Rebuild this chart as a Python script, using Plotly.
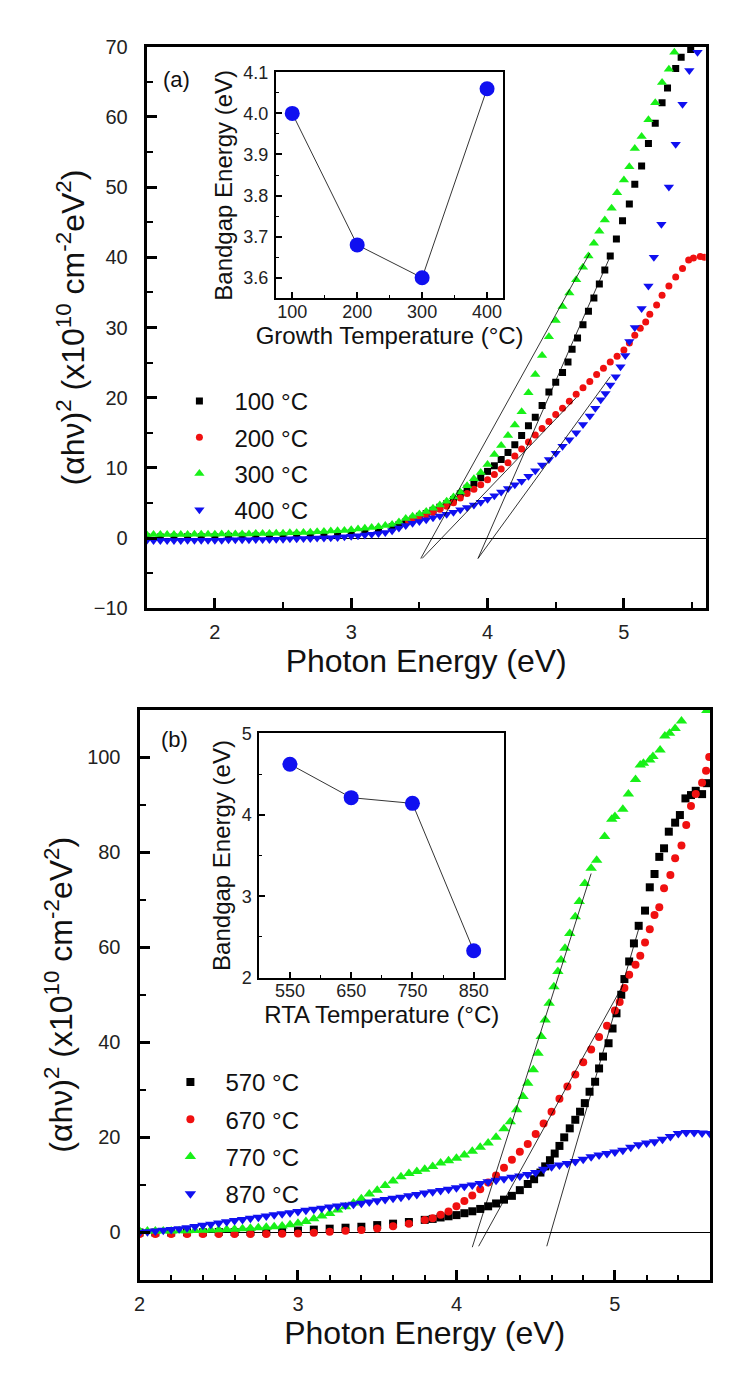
import plotly.graph_objects as go

FONT = "Liberation Sans, Arial, sans-serif"

# ---------- panel (a): films grown at different temperatures ----------
a_x_100 = [1.50, 1.60, 1.70, 1.80, 1.90, 2.00, 2.10, 2.20, 2.30, 2.40, 2.50, 2.60, 2.70, 2.80, 2.90,
           3.00, 3.10, 3.20, 3.30, 3.35, 3.40, 3.45, 3.50, 3.55, 3.60, 3.65, 3.70, 3.75, 3.80, 3.85,
           3.90, 3.95, 4.00, 4.05, 4.10, 4.15, 4.20, 4.25, 4.30, 4.35, 4.40, 4.45, 4.50, 4.55, 4.59,
           4.62, 4.66, 4.70, 4.74, 4.78, 4.82, 4.86, 4.90, 4.945, 4.99, 5.04, 5.08, 5.13, 5.18, 5.23,
           5.28, 5.32, 5.38, 5.42, 5.49, 5.55]
a_y_100 = [0.15, 0.15, 0.15, 0.2, 0.2, 0.2, 0.25, 0.25, 0.3, 0.3, 0.35, 0.4, 0.45, 0.5, 0.6,
           0.75, 0.95, 1.2, 1.6, 1.9, 2.3, 2.7, 3.1, 3.5, 3.95, 4.4, 4.9, 5.5, 6.3, 7.1,
           7.8, 8.6, 9.5, 10.3, 11.2, 12.2, 13.3, 14.6, 16.0, 17.2, 18.9, 20.8, 22.2, 23.6, 25.1,
           26.9, 28.5, 30.4, 32.3, 34.2, 36.2, 38.2, 40.2, 42.6, 45.2, 47.6, 50.4, 53.0, 56.2, 59.1,
           62.0, 64.1, 66.9, 68.5, 69.6, 70.5]

a_x_200 = [3.42, 3.45, 3.50, 3.55, 3.60, 3.65, 3.70, 3.75, 3.80, 3.85, 3.90, 3.95, 4.00, 4.05, 4.10,
           4.15, 4.20, 4.25, 4.30, 4.35, 4.40, 4.45, 4.50, 4.55, 4.60, 4.65, 4.70, 4.75, 4.80, 4.85,
           4.90, 4.95, 5.00, 5.04, 5.08, 5.12, 5.16, 5.19, 5.24, 5.28, 5.33, 5.38, 5.43, 5.475, 5.51,
           5.56, 5.59]
a_y_200 = [2.45, 2.7, 3.0, 3.3, 3.65, 4.1, 4.55, 5.05, 5.7, 6.35, 6.95, 7.6, 8.3, 9.05, 9.85,
           10.75, 11.7, 12.7, 13.7, 14.7, 15.6, 16.6, 17.6, 18.5, 19.5, 20.5, 21.4, 22.3, 23.3, 24.2,
           25.1, 25.9, 26.8, 27.8, 28.9, 29.9, 30.8, 31.9, 33.2, 34.6, 35.9, 37.2, 38.4, 39.6, 39.9,
           40.1, 40.0]

a_x_300 = [1.50, 1.55, 1.60, 1.65, 1.70, 1.75, 1.80, 1.85, 1.90, 1.95, 2.00, 2.05, 2.10, 2.15, 2.20,
           2.25, 2.30, 2.35, 2.40, 2.45, 2.50, 2.55, 2.60, 2.65, 2.70, 2.75, 2.80, 2.85, 2.90, 2.95,
           3.00, 3.05, 3.10, 3.15, 3.20, 3.25, 3.30, 3.35, 3.40, 3.45, 3.50, 3.55, 3.60, 3.65, 3.70,
           3.75, 3.80, 3.85, 3.90, 3.95, 4.00, 4.05, 4.10, 4.15, 4.20, 4.25, 4.30, 4.35, 4.40, 4.45,
           4.50, 4.55, 4.60, 4.65, 4.70, 4.74, 4.78, 4.82, 4.86, 4.91, 4.95, 5.00, 5.04, 5.08, 5.13,
           5.18, 5.23, 5.28, 5.33, 5.37, 5.42]
a_y_300 = [0.5, 0.5, 0.5, 0.5, 0.5, 0.5, 0.5, 0.55, 0.55, 0.55, 0.55, 0.6, 0.6, 0.6, 0.6,
           0.6, 0.65, 0.65, 0.65, 0.7, 0.7, 0.75, 0.75, 0.8, 0.85, 0.9, 0.95, 1.0, 1.05, 1.1,
           1.2, 1.3, 1.4, 1.5, 1.6, 1.8, 1.95, 2.3, 2.8, 3.1, 3.45, 3.8, 4.25, 4.7, 5.25,
           5.85, 6.55, 7.45, 8.45, 9.35, 10.5, 11.9, 13.2, 14.6, 16.1, 18.0, 20.7, 23.3, 26.0, 28.7,
           31.0, 33.0, 34.9, 36.8, 38.6, 40.2, 42.0, 43.7, 45.3, 47.0, 49.2, 51.0, 52.9, 55.5, 57.2,
           59.6, 62.0, 64.9, 66.8, 69.2, 71.0]

a_x_400 = [1.50, 1.55, 1.60, 1.65, 1.70, 1.75, 1.80, 1.85, 1.90, 1.95, 2.00, 2.05, 2.10, 2.15, 2.20,
           2.25, 2.30, 2.35, 2.40, 2.45, 2.50, 2.55, 2.60, 2.65, 2.70, 2.75, 2.80, 2.85, 2.90, 2.95,
           3.00, 3.05, 3.10, 3.15, 3.20, 3.25, 3.30, 3.35, 3.40, 3.45, 3.50, 3.55, 3.60, 3.65, 3.70,
           3.75, 3.80, 3.85, 3.90, 3.95, 4.00, 4.05, 4.10, 4.15, 4.20, 4.25, 4.30, 4.35, 4.40, 4.45,
           4.50, 4.55, 4.60, 4.65, 4.70, 4.75, 4.79, 4.83, 4.865, 4.90, 4.94, 4.975, 5.01, 5.04, 5.08,
           5.13, 5.18, 5.22, 5.275, 5.33, 5.38, 5.43, 5.48, 5.54]
a_y_400 = [-0.35, -0.35, -0.35, -0.35, -0.35, -0.35, -0.3, -0.3, -0.3, -0.3, -0.3, -0.3, -0.25, -0.25, -0.25,
           -0.25, -0.2, -0.2, -0.2, -0.15, -0.15, -0.1, -0.1, -0.05, -0.05, 0.0, 0.0, 0.05, 0.1, 0.2,
           0.25, 0.35, 0.45, 0.55, 0.65, 0.8, 1.05, 1.45, 1.8, 2.1, 2.35, 2.6, 2.9, 3.15, 3.4,
           3.7, 4.05, 4.35, 4.7, 5.1, 5.55, 6.05, 6.55, 7.05, 7.6, 8.1, 8.8, 9.6, 10.4, 11.2,
           12.1, 13.1, 14.0, 15.0, 16.2, 17.4, 18.5, 19.7, 20.6, 21.8, 23.0, 24.4, 26.0, 28.0, 30.0,
           32.7, 35.9, 40.0, 44.7, 50.0, 56.1, 61.8, 66.6, 69.2]

# linear extrapolation lines (x pairs, y pairs)
a_fit_x = [[3.93, 4.91], [3.52, 4.65], [3.51, 4.75], [3.93, 4.90]]
a_fit_y = [[-2.9, 40.6], [-2.9, 20.0], [-2.9, 40.6], [-2.9, 23.0]]

growth_temp = [100, 200, 300, 400]
growth_gap = [4.00, 3.68, 3.60, 4.06]

# ---------- panel (b): films after RTA ----------
b_x_570 = [2.00, 2.10, 2.20, 2.30, 2.40, 2.50, 2.60, 2.70, 2.80, 2.90, 3.00, 3.10, 3.20, 3.30, 3.40,
           3.50, 3.60, 3.70, 3.80, 3.85, 3.90, 3.95, 4.00, 4.05, 4.10, 4.15, 4.20, 4.25, 4.30, 4.35,
           4.40, 4.45, 4.49, 4.53, 4.56, 4.59, 4.62, 4.65, 4.68, 4.715, 4.75, 4.78, 4.81, 4.84, 4.875,
           4.90, 4.925, 4.96, 4.985, 5.01, 5.04, 5.06, 5.09, 5.12, 5.15, 5.19, 5.22, 5.25, 5.28, 5.31,
           5.34, 5.38, 5.41, 5.445, 5.48, 5.51, 5.55, 5.58]
b_y_570 = [0.0, 0.0, 0.0, 0.05, 0.05, 0.1, 0.1, 0.15, 0.15, 0.25, 0.4, 0.6, 0.8, 1.0, 1.2,
           1.55, 1.85, 2.2, 2.65, 2.85, 3.15, 3.4, 3.65, 4.05, 4.45, 4.95, 5.5, 6.1, 6.9, 7.7,
           8.9, 10.2, 11.2, 12.6, 13.9, 15.2, 16.6, 18.2, 20.0, 21.9, 23.7, 25.4, 27.2, 29.6, 31.7,
           34.5, 37.0, 39.8, 42.9, 46.1, 50.0, 53.3, 57.0, 60.8, 64.5, 67.7, 72.6, 75.4, 79.0, 80.8,
           84.3, 86.2, 87.8, 91.3, 92.0, 92.9, 92.2, 94.5]

b_x_670 = [2.00, 2.10, 2.20, 2.30, 2.40, 2.50, 2.60, 2.70, 2.80, 2.90, 3.00, 3.10, 3.20, 3.30, 3.40,
           3.50, 3.60, 3.70, 3.80, 3.85, 3.90, 3.95, 4.00, 4.05, 4.10, 4.15, 4.20, 4.25, 4.30, 4.35,
           4.40, 4.45, 4.50, 4.55, 4.60, 4.65, 4.70, 4.75, 4.80, 4.85, 4.90, 4.95, 5.00, 5.03, 5.06,
           5.09, 5.13, 5.16, 5.19, 5.22, 5.25, 5.28, 5.31, 5.35, 5.38, 5.42, 5.45, 5.48, 5.51, 5.55,
           5.575, 5.595]
b_y_670 = [-0.3, -0.3, -0.3, -0.3, -0.3, -0.3, -0.3, -0.3, -0.3, -0.25, -0.2, -0.05, 0.15, 0.35, 0.5,
           0.85, 1.3, 1.85, 2.6, 3.0, 3.75, 4.4, 5.5, 6.6, 7.75, 9.1, 10.5, 12.0, 13.6, 15.3,
           17.0, 18.6, 20.7, 22.9, 25.4, 28.1, 30.7, 33.2, 35.8, 38.5, 41.1, 43.5, 46.7, 48.5, 51.4,
           54.2, 56.3, 58.2, 61.0, 63.8, 66.8, 68.4, 72.4, 75.2, 78.7, 81.4, 85.7, 89.7, 92.2, 94.6,
           97.1, 100.0]

b_x_770 = [2.00, 2.05, 2.10, 2.15, 2.20, 2.25, 2.30, 2.35, 2.40, 2.45, 2.50, 2.55, 2.60, 2.65, 2.70,
           2.75, 2.80, 2.85, 2.90, 2.95, 3.00, 3.05, 3.10, 3.15, 3.20, 3.25, 3.30, 3.35, 3.40, 3.45,
           3.50, 3.55, 3.60, 3.65, 3.70, 3.75, 3.80, 3.85, 3.90, 3.95, 4.00, 4.05, 4.10, 4.15, 4.20,
           4.25, 4.30, 4.34, 4.38, 4.42, 4.45, 4.485, 4.515, 4.535, 4.56, 4.585, 4.615, 4.64, 4.66, 4.685,
           4.715, 4.75, 4.775, 4.81, 4.85, 4.885, 4.935, 4.98, 5.00, 5.05, 5.085, 5.13, 5.16, 5.18, 5.22,
           5.24, 5.285, 5.315, 5.345, 5.38, 5.42, 5.58]
b_y_770 = [0.3, 0.3, 0.3, 0.3, 0.3, 0.35, 0.35, 0.4, 0.45, 0.5, 0.55, 0.6, 0.7, 0.8, 0.9,
           1.0, 1.1, 1.2, 1.35, 1.6, 1.95, 2.3, 2.9, 3.45, 4.0, 4.7, 5.4, 6.2, 7.1, 8.1,
           8.9, 9.9, 10.8, 11.7, 12.4, 12.8, 13.3, 13.9, 14.6, 15.1, 15.6, 16.3, 17.1, 17.9, 18.8,
           20.0, 21.8, 23.3, 25.8, 28.6, 31.4, 34.2, 37.7, 41.2, 44.7, 48.2, 51.7, 54.9, 57.3, 59.8,
           62.9, 66.4, 69.6, 73.4, 76.6, 78.3, 83.3, 86.9, 87.5, 89.0, 92.2, 95.3, 98.3, 98.7, 99.4,
           100.1, 101.5, 104.4, 105.0, 106.0, 107.6, 109.8]

b_x_870 = [2.00, 2.05, 2.10, 2.15, 2.20, 2.25, 2.30, 2.35, 2.40, 2.45, 2.50, 2.55, 2.60, 2.65, 2.70,
           2.75, 2.80, 2.85, 2.90, 2.95, 3.00, 3.05, 3.10, 3.15, 3.20, 3.25, 3.30, 3.35, 3.40, 3.45,
           3.50, 3.55, 3.60, 3.65, 3.70, 3.75, 3.80, 3.85, 3.90, 3.95, 4.00, 4.05, 4.10, 4.15, 4.20,
           4.25, 4.30, 4.35, 4.40, 4.45, 4.50, 4.55, 4.60, 4.65, 4.70, 4.75, 4.80, 4.85, 4.90, 4.95,
           5.00, 5.05, 5.10, 5.15, 5.20, 5.25, 5.30, 5.35, 5.40, 5.45, 5.50, 5.55, 5.60]
b_y_870 = [0.0, 0.15, 0.3, 0.45, 0.6, 0.8, 1.0, 1.25, 1.5, 1.75, 2.0, 2.25, 2.5, 2.75, 3.0,
           3.2, 3.45, 3.7, 3.95, 4.15, 4.4, 4.65, 4.9, 5.1, 5.35, 5.55, 5.75, 5.95, 6.15, 6.4,
           6.65, 6.95, 7.2, 7.4, 7.7, 8.0, 8.3, 8.55, 8.8, 9.1, 9.4, 9.7, 10.0, 10.3, 10.65,
           11.0, 11.3, 11.6, 11.9, 12.2, 12.6, 13.3, 13.8, 14.2, 14.5, 14.9, 15.4, 15.9, 16.3, 16.6,
           16.9, 17.3, 17.9, 18.45, 18.8, 19.1, 19.6, 20.2, 20.8, 21.0, 21.0, 20.9, 20.8]

b_fit_x = [[4.57, 5.16], [4.14, 5.05], [4.10, 4.85]]
b_fit_y = [[-2.9, 65.0], [-2.9, 52.0], [-3.1, 75.5]]

rta_temp = [550, 650, 750, 850]
rta_gap = [4.62, 4.21, 4.14, 2.33]

BLACK, RED, GREEN, BLUE = "#000000", "#f01010", "#18f018", "#1010f0"

# the page body adds an 8px margin, so the figure is 8px smaller than the window
W, H, OFF = 746, 1366, 8


def xdom(left, right):
    return [(left - OFF) / W, (right - OFF) / W]


def ydom(top, bottom):
    return [1 - (bottom - OFF) / H, 1 - (top - OFF) / H]


fig = go.Figure()

# panel (a) curves
a_series = [("100 °C", a_x_100, a_y_100, "square", BLACK, 7),
            ("200 °C", a_x_200, a_y_200, "circle", RED, 7),
            ("300 °C", a_x_300, a_y_300, "triangle-up", GREEN, 9),
            ("400 °C", a_x_400, a_y_400, "triangle-down", BLUE, 9)]
for name, xs, ys, sym, col, sz in a_series:
    fig.add_trace(go.Scatter(x=xs, y=ys, mode="markers", name=name, legendgroup="a" + name,
                             marker=dict(symbol=sym, color=col, size=sz, line_width=0),
                             xaxis="x", yaxis="y", legend="legend"))
for fx, fy in zip(a_fit_x, a_fit_y):
    fig.add_trace(go.Scatter(x=fx, y=fy, mode="lines", line=dict(color="black", width=0.8),
                             showlegend=False, xaxis="x", yaxis="y"))

# panel (b) curves
b_series = [("570 °C", b_x_570, b_y_570, "square", BLACK, 8),
            ("670 °C", b_x_670, b_y_670, "circle", RED, 8),
            ("770 °C", b_x_770, b_y_770, "triangle-up", GREEN, 10),
            ("870 °C", b_x_870, b_y_870, "triangle-down", BLUE, 10)]
for name, xs, ys, sym, col, sz in b_series:
    fig.add_trace(go.Scatter(x=xs, y=ys, mode="markers", name=name, legendgroup="b" + name,
                             marker=dict(symbol=sym, color=col, size=sz, line_width=0),
                             xaxis="x2", yaxis="y2", legend="legend2"))
for fx, fy in zip(b_fit_x, b_fit_y):
    fig.add_trace(go.Scatter(x=fx, y=fy, mode="lines", line=dict(color="black", width=0.8),
                             showlegend=False, xaxis="x2", yaxis="y2"))

# insets
fig.add_trace(go.Scatter(x=growth_temp, y=growth_gap, mode="lines+markers", showlegend=False,
                         line=dict(color="black", width=0.8),
                         marker=dict(color=BLUE, size=15), xaxis="x3", yaxis="y3"))
fig.add_trace(go.Scatter(x=rta_temp, y=rta_gap, mode="lines+markers", showlegend=False,
                         line=dict(color="black", width=0.8),
                         marker=dict(color=BLUE, size=15), xaxis="x4", yaxis="y4"))

ytitle = "(αhν)<sup>2</sup> (x10<sup>10</sup> cm<sup>-2</sup>eV<sup>2</sup>)"


def main_axis(**kw):
    d = dict(showline=True, mirror=True, linecolor="black", linewidth=3, ticks="inside",
             ticklen=10, tickwidth=2.5, tickcolor="black", showgrid=False, zeroline=False,
             automargin=False, layer="above traces",
             tickfont=dict(size=20, color="#222"), ticklabelstandoff=4)
    d.update(kw)
    return d


def inset_axis(**kw):
    d = dict(showline=True, mirror=True, linecolor="black", linewidth=2, ticks="inside",
             ticklen=6, tickwidth=1.5, tickcolor="black", showgrid=False, zeroline=False,
             automargin=False, layer="above traces",
             tickfont=dict(size=18, color="#222"), ticklabelstandoff=2)
    d.update(kw)
    return d


fig.update_layout(
    width=W, height=H,
    margin=dict(l=0, r=0, t=0, b=0, autoexpand=False),
    paper_bgcolor="white", plot_bgcolor="white",
    font=dict(family=FONT, color="#111"),
    xaxis=main_axis(domain=xdom(146.7, 705.7), anchor="y", range=[1.5, 5.6], dtick=1,
                    minor=dict(dtick=0.5, ticks="inside", ticklen=6, tickwidth=2),
                    title=dict(text="Photon Energy (eV)", font=dict(size=32), standoff=6)),
    yaxis=main_axis(domain=ydom(46.7, 608.3), anchor="x", range=[-10, 70], dtick=10,
                    minor=dict(dtick=5, ticks="inside", ticklen=6, tickwidth=2),
                    zeroline=True, zerolinecolor="black", zerolinewidth=1, ticklabelstandoff=12,
                    title=dict(text=ytitle, font=dict(size=32), standoff=0)),
    xaxis2=main_axis(domain=xdom(139.5, 710), anchor="y2", range=[2, 5.6], dtick=1,
                     minor=dict(dtick=0.2, ticks="inside", ticklen=5, tickwidth=2),
                     title=dict(text="Photon Energy (eV)", font=dict(size=32), standoff=6)),
    yaxis2=main_axis(domain=ydom(709.5, 1280), anchor="x2", range=[-10, 110], dtick=20,
                     minor=dict(dtick=10, ticks="inside", ticklen=6, tickwidth=2),
                     zeroline=True, zerolinecolor="black", zerolinewidth=1, ticklabelstandoff=12,
                     title=dict(text=ytitle, font=dict(size=32), standoff=5)),
    xaxis3=inset_axis(domain=xdom(276, 503.3), anchor="y3", range=[75, 425], dtick=100,
                      minor=dict(dtick=50, ticks="inside", ticklen=3, tickwidth=1.2),
                      ticklabelstandoff=-4,
                      title=dict(text="Growth Temperature (°C)", font=dict(size=24), standoff=1)),
    yaxis3=inset_axis(domain=ydom(72.3, 298.3), anchor="x3", range=[3.55, 4.1], dtick=0.1,
                      tickformat=".1f",
                      minor=dict(dtick=0.05, ticks="inside", ticklen=3, tickwidth=1.2),
                      title=dict(text="Bandgap Energy (eV)", font=dict(size=24), standoff=4)),
    xaxis4=inset_axis(domain=xdom(259.3, 504.3), anchor="y4", range=[500, 900], dtick=100, tick0=50,
                      minor=dict(dtick=50, ticks="inside", ticklen=3, tickwidth=1.2),
                      ticklabelstandoff=-4,
                      title=dict(text="RTA Temperature (°C)", font=dict(size=24), standoff=1)),
    yaxis4=inset_axis(domain=ydom(733.3, 977.7), anchor="x4", range=[2, 5], dtick=1,
                      minor=dict(dtick=0.5, ticks="inside", ticklen=3, tickwidth=1.2),
                      title=dict(text="Bandgap Energy (eV)", font=dict(size=24), standoff=4)),
    legend=dict(x=(164.4 - OFF) / W, y=1 - (379 - OFF) / H, xanchor="left", yanchor="top",
                font=dict(size=24, color="#111"), itemwidth=60, tracegroupgap=2,
                bgcolor="rgba(0,0,0,0)", traceorder="grouped"),
    legend2=dict(x=(155.4 - OFF) / W, y=1 - (1060 - OFF) / H, xanchor="left", yanchor="top",
                 font=dict(size=24, color="#111"), itemwidth=60, tracegroupgap=3,
                 bgcolor="rgba(0,0,0,0)", traceorder="grouped"),
    annotations=[
        dict(text="(a)", x=(176 - OFF) / W, y=1 - (79 - OFF) / H, xref="paper", yref="paper",
             xanchor="center", yanchor="middle", showarrow=False, font=dict(size=22)),
        dict(text="(b)", x=(174 - OFF) / W, y=1 - (739 - OFF) / H, xref="paper", yref="paper",
             xanchor="center", yanchor="middle", showarrow=False, font=dict(size=22)),
    ],
)

fig.write_html("out.html")
